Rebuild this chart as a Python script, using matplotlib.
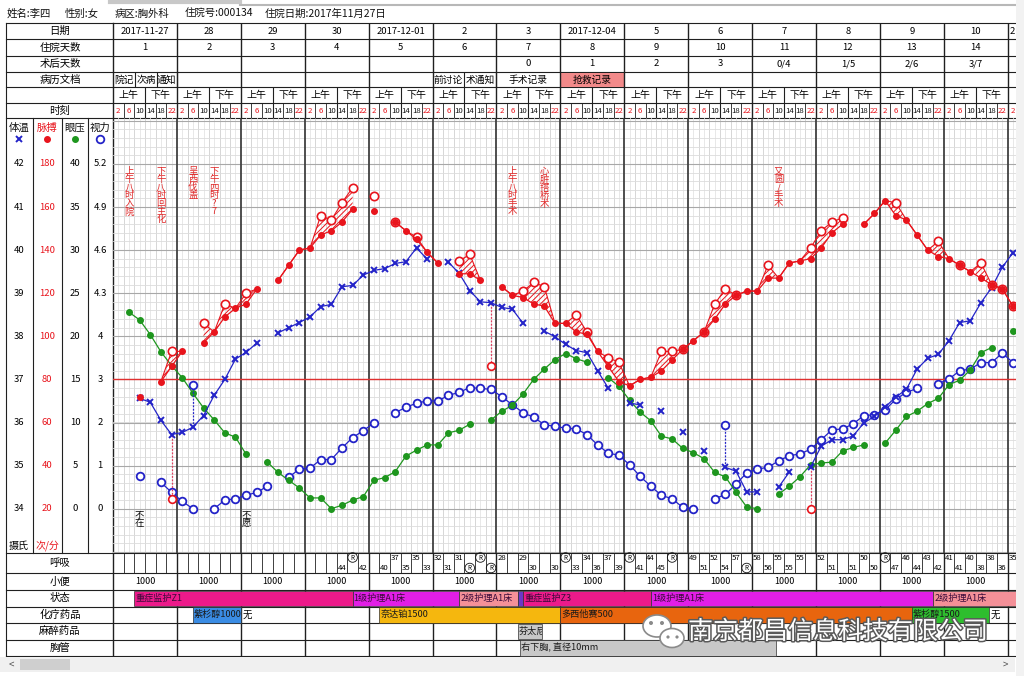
import numpy as np
import matplotlib
matplotlib.use("Agg")
import matplotlib.pyplot as plt
import matplotlib.transforms as mtransforms
import matplotlib.patheffects as pe
from matplotlib.transforms import Bbox
from matplotlib.patches import Rectangle, Ellipse

plt.rcParams['font.family'] = ['Noto Sans CJK SC', 'DejaVu Sans']
plt.rcParams['hatch.linewidth'] = 0.7

# ======================= DATA =======================
patient_info = ["姓名:李四", "性别:女", "病区:胸外科", "住院号:000134", "住院日期:2017年11月27日"]
dates = ["2017-11-27", "28", "29", "30", "2017-12-01", "2", "3", "2017-12-04",
         "5", "6", "7", "8", "9", "10", "2"]
hosp_days = ["1", "2", "3", "4", "5", "6", "7", "8", "9", "10", "11", "12", "13", "14", ""]
postop_days = ["", "", "", "", "", "", "0", "1", "2", "3", "0/4", "1/5", "2/6", "3/7", ""]
slot_hours = [2, 6, 10, 14, 18, 22]
red_hours = [2, 6, 22]

doc_text = ["院记", "次病", "通知", "前讨论", "术通知", "手术记录", "抢救记录"]
doc_start = [0, 8.3, 16.4, 120, 132, 144, 168]
doc_end = [8.3, 16.4, 24, 132, 144, 168, 192]
doc_color = [None, None, None, None, None, None, "#F28A8A"]

# body temperature (deg C), one value per time slot (None = not measured)
temperature = [None, None, 36.56, 36.47, 36.05, 35.72,
               35.77, 35.89, 36.16, 36.63, 37.0, 37.47,
               37.63, 37.84, None, 38.08, 38.2, 38.32,
               38.45, 38.69, 38.74, 39.15, 39.18, 39.42,
               39.53, 39.57, 39.69, 39.73, 40.05, 39.79,
               None, 39.72, 39.46, 39.06, 38.8, 38.78,
               38.67, 38.63, 38.3, None, 38.12, 37.99,
               37.81, 37.67, 37.62, 37.2, 36.8, None,
               36.45, 36.41, None, 36.27, None, 35.79,
               None, 35.34, None, 34.96, 34.87, 34.39,
               34.39, None, 34.5, 34.85, None, 34.97,
               35.45, 35.6, 35.6, 35.69, 35.99, 36.14,
               36.36, 36.59, 36.77, 37.24, 37.49, 37.58,
               37.9, 38.32, 38.36, 38.78, 39.13, 39.6,
               39.94]
# pulse (beats/min)
pulse = [None, None, 72, None, 79, 86,
         93, None, 97, 102, 109, 113,
         115, 122, None, 126, 133, 140,
         141, 147, 149, 153, 159, None,
         158, None, 153, 149, 145, 139,
         134, None, 129, 129, 126, None,
         123, 119, 118, 115, 114, 106,
         106, 102, 101, 93, 86, 79,
         77, 80, 81, 84, 89, 94,
         98, 102, 108, 115, 119, 121,
         121, 127, 127, 134, 135, 136,
         141, 148, 152, None, 152, 157,
         163, 156, 154, 147, 140, 137,
         136, 133, 130, 127, 124, 122,
         114]
# heart rate (beats/min)
heart = [None, None, None, None, None, 93,
         None, None, 106, None, 115, None,
         120, None, None, None, None, None,
         None, 156, 154, 162, 169, None,
         165, None, 153, None, 146, None,
         None, None, 135, 138, None, None,
         None, None, 121, 125, 123, None,
         None, 110, 102, None, 90, 88,
         None, None, None, 93, 93, 94,
         None, 102, 115, 122, 119, None,
         None, 133, None, None, None, 141,
         149, 153, 155, None, None, None,
         None, 162, None, None, None, 144,
         None, 133, None, 134, 124, 122,
         114]
# intraocular pressure (mmHg)
eye_pressure = [None, 22.8, 21.9, 20.2, 18.2, 16.6,
                15.2, 13.4, 11.7, 10.3, 8.8, 8.3,
                6.3, None, 5.4, 4.2, 3.3, 2.4,
                1.25, 1.25, 0.0, 0.4, 1.0, 1.4,
                3.3, 3.6, 4.3, 6.1, 6.8, 7.4,
                7.4, 8.8, 9.1, 9.8, None, 10.3,
                11.3, 12.0, 13.3, 15.0, 16.2, 17.3,
                18.0, 17.4, 17.0, None, 15.2, 14.2,
                12.6, 11.2, 10.2, 8.4, 8.1, 7.0,
                6.5, 5.8, 4.2, 3.7, 1.9, 0.2,
                0.0, None, 1.7, 2.6, 3.7, 5.1,
                5.3, 5.4, 6.7, 7.1, 7.4, None,
                7.6, 9.1, 10.7, 11.3, 12.2, 12.8,
                14.4, 14.9, 16.1, 18.1, 18.7, None,
                20.6]
# visual acuity
vision = [None, None, 0.77, None, 0.61, 0.38,
          0.17, 0.0, None, 0.0, 0.2, 0.23,
          0.31, 0.38, 0.52, None, 0.73, 0.92,
          0.94, 1.14, 1.14, 1.41, 1.65, 1.81,
          1.99, None, 2.23, 2.35, 2.45, 2.5,
          2.5, 2.63, 2.7, 2.81, 2.79, 2.77,
          2.6, 2.41, 2.23, 2.12, 1.95, 1.91,
          1.87, 1.85, 1.72, 1.48, 1.29, 1.24,
          1.02, 0.75, 0.52, 0.31, 0.23, 0.03,
          0.0, None, 0.23, 0.33, 0.57, 0.83,
          0.92, 0.96, 1.11, 1.23, 1.27, 1.38,
          1.6, 1.83, 1.85, 1.97, 2.16, 2.18,
          2.29, 2.54, 2.7, 2.79, None, 2.9,
          3.01, 3.2, 3.24, 3.39, 3.39, 3.61,
          3.39]
# physical cooling (temperature after cooling), slot index / deg C
cool_slots = [5, 35, 65]
cool_temps = [34.23, 37.3, 34.0]
# re-measured temperature, slot index / deg C
retest_slots = [7, 57]
retest_temps = [36.87, 35.95]

# event notes (slot index, text)
top_note_slots = [1, 4, 7, 9, 37, 40, 62]
top_note_texts = ["上午八时入院", "下午八时回主化", "呈西伐盖", "下午四时?7",
                  "上午八时手术", "心脏搭桥术", "又圆/手术"]
bottom_note_slots = [2, 12]
bottom_note_texts = ["不在", "不愿"]

# respiration (slot index -> value; "R" = ventilator)
resp_slots = [21, 22, 23, 25, 26, 27, 28, 29, 30, 31, 32, 33, 34, 35, 36, 38, 39, 41, 42, 43,
              44, 45, 46, 47, 48, 49, 50, 51, 52, 54, 55, 56, 57, 58, 59, 60, 61, 62, 63, 64,
              66, 67, 69, 70, 71, 72, 73, 74, 75, 76, 77, 78, 79, 80, 81, 82, 83, 84]
resp_vals = ["44", "R", "42", "40", "37", "35", "35", "33", "32", "31", "31", "R", "R", "R", "28",
             "29", "30", "30", "R", "33", "34", "36", "37", "39", "R", "41", "44", "45", "R",
             "49", "51", "52", "54", "57", "R", "58", "56", "55", "55", "55",
             "52", "51", "51", "50", "50", "R", "47", "46", "44", "43", "42", "41", "41", "40",
             "38", "38", "36", "35"]
urine = ["1000"] * 14

status_text = ["重症监护Z1", "1级护理A1床", "2级护理A1床", "", "重症监护Z3", "1级护理A1床", "2级护理A1床"]
status_start = [8, 90, 130, 152, 154, 202, 308]
status_end = [90, 130, 152, 154, 202, 308, 345]
status_color = ["#EC1A8A", "#E11EE6", "#F49098", "#6A38C8", "#EC1A8A", "#E11EE6", "#F49098"]

chemo_text = ["紫杉醇1000", "奈达铂1500", "多西他赛500", "紫杉醇1500"]
chemo_start = [30, 100, 168, 300]
chemo_end = [48, 168, 300, 329]
chemo_color = ["#3A8CE4", "#F5B70E", "#E8650E", "#2EBE2E"]
chemo_after = [(48, "无"), (329, "无")]

anes_text = ["芬太尼"]
anes_start = [152]
anes_end = [161]

tube_text = ["右下胸, 直径10mm"]
tube_start = [153]
tube_end = [249]

temp_ticks = [42, 41, 40, 39, 38, 37, 36, 35, 34]
pulse_ticks = [180, 160, 140, 120, 100, 80, 60, 40, 20]
eye_ticks = [40, 35, 30, 25, 20, 15, 10, 5, 0]
vision_ticks = ["5.2", "4.9", "4.6", "4.3", "4", "3", "2", "1", "0"]

# ======================= SCALES =======================
def arr(v):
    return np.array([np.nan if x is None else x for x in v], dtype=float)

def pulse_to_T(p):
    return 34 + (np.asarray(p, dtype=float) - 20) / 20.0

def eye_to_T(e):
    return 34 + np.asarray(e, dtype=float) / 5.0

def vision_to_T(v):
    v = np.asarray(v, dtype=float)
    return np.where(v <= 4, 34 + v, 38 + (v - 4) / 0.3)

# ======================= LAYOUT =======================
W, H = 1024, 676
X0, X1 = 113.0, 1016.0
PXH = 63.9 / 24.0
HMAX = (X1 - X0) / PXH
PY0, PY1 = 117.5, 552.5
Y37, PXDEG = 379.4, 43.1

def T_of_y(y):
    return 37 + (Y37 - y) / PXDEG

def px(h):
    return X0 + h * PXH

head_rows = [22.7, 39.3, 56.0, 71.7, 87.3, 103.3, PY0]
head_labels = ["日期", "住院天数", "术后天数", "病历文档", "", "时刻"]
foot_rows = [PY1, 573.0, 590.0, 606.5, 623.0, 639.5, 656.0]
foot_labels = ["呼吸", "小便", "状态", "化疗药品", "麻醉药品", "胸管"]

LINE = "#202020"
RED = "#E8141C"
BLUE = "#2323C8"
GREEN = "#1E961E"

fig = plt.figure(figsize=(W / 100, H / 100), dpi=100)
fig.patch.set_facecolor("white")

bg = fig.add_axes([0, 0, 1, 1])
bg.set_xlim(0, W); bg.set_ylim(H, 0); bg.axis("off")

ax = fig.add_axes([X0 / W, 1 - PY1 / H, (X1 - X0) / W, (PY1 - PY0) / H])
ax.set_xlim(0, HMAX); ax.set_ylim(T_of_y(PY1), T_of_y(PY0))
ax.axis("off")

tab = fig.add_axes([X0 / W, 0, (X1 - X0) / W, 1])
tab.set_xlim(0, HMAX); tab.set_ylim(H, 0); tab.axis("off")

ov = fig.add_axes([0, 0, 1, 1])
ov.set_xlim(0, W); ov.set_ylim(H, 0); ov.axis("off")

def clip_px(t, x0, x1, y0, y1):
    t.set_clip_box(Bbox.from_extents(x0, H - y1, x1, H - y0))
    t.set_clip_on(True)

# ---- top info line ----
info_x = [7, 65, 115, 185, 265]
for s, x in zip(patient_info, info_x):
    bg.text(x, 14, s, fontsize=7.5, ha="left", va="center", color="#111111")
bg.plot([240, 1015], [4.5, 4.5], color="#B8B8B8", lw=1.5)
bg.plot([110, 240], [1.5, 1.5], color="#C8C8C8", lw=3)

# ---- header table ----
for y in head_rows + foot_rows:
    bg.plot([6, X1], [y, y], color=LINE, lw=0.8)
bg.plot([6, 6], [head_rows[0], foot_rows[-1]], color=LINE, lw=0.8)
bg.plot([X0, X0], [head_rows[0], foot_rows[-1]], color=LINE, lw=1.0)
for x in [33, 62, 88]:
    bg.plot([x, x], [PY0, PY1], color=LINE, lw=0.8)

for lab, y0, y1 in zip(head_labels, head_rows[:-1], head_rows[1:]):
    bg.text(60, (y0 + y1) / 2, lab, fontsize=7.5, ha="center", va="center")
for lab, y0, y1 in zip(foot_labels, foot_rows[:-1], foot_rows[1:]):
    bg.text(60, (y0 + y1) / 2, lab, fontsize=7.5, ha="center", va="center")

ndays = len(dates)
for d in range(1, ndays):
    tab.vlines(24 * d, head_rows[0], head_rows[-1], color=LINE, lw=1.0)
    tab.vlines(24 * d, foot_rows[0], foot_rows[-1], color=LINE, lw=1.0)
for d in range(ndays):
    tab.vlines(24 * d + 12, head_rows[4], head_rows[6], color=LINE, lw=0.8)
    for k in [1, 2, 4, 5]:
        tab.vlines(24 * d + 4 * k, head_rows[5], head_rows[6], color=LINE, lw=0.6)
for k in range(1, int(HMAX // 4) + 1):
    tab.vlines(4 * k, foot_rows[0], foot_rows[1], color=LINE, lw=0.6)

def row_mid(rows, i):
    return (rows[i] + rows[i + 1]) / 2

for d in range(ndays):
    c = 24 * d + 12
    full = c + 10 < HMAX
    if full:
        tab.text(c, row_mid(head_rows, 0), dates[d], fontsize=6.8, ha="center", va="center")
        tab.text(c, row_mid(head_rows, 1), hosp_days[d], fontsize=6.8, ha="center", va="center")
        tab.text(c, row_mid(head_rows, 2), postop_days[d], fontsize=6.8, ha="center", va="center")
        tab.text(24 * d + 6, row_mid(head_rows, 4), "上午", fontsize=7.2, ha="center", va="center")
        tab.text(24 * d + 18, row_mid(head_rows, 4), "下午", fontsize=7.2, ha="center", va="center")
    else:
        # partially visible last day: only its leading character shows
        tab.text(24 * d + 0.6, row_mid(head_rows, 0), dates[d], fontsize=6.8, ha="left", va="center")
    for h in slot_hours:
        if 24 * d + h < HMAX - 0.8:
            tab.text(24 * d + h, row_mid(head_rows, 5) + 0.5, str(h), fontsize=5.6,
                     ha="center", va="center", color=(RED if h in red_hours else "#111111"))

# document row
for s, a, b, col in zip(doc_text, doc_start, doc_end, doc_color):
    if col:
        tab.add_patch(Rectangle((a, head_rows[3] + 0.8), b - a, head_rows[4] - head_rows[3] - 1.6,
                                facecolor=col, edgecolor="none"))
    if b - a < 24:
        tab.vlines(b, head_rows[3], head_rows[4], color=LINE, lw=0.8)
    t = tab.text((a + b) / 2, row_mid(head_rows, 3), s, fontsize=7.0, ha="center", va="center")
    clip_px(t, px(a) + 0.5, px(b) - 0.5, head_rows[3], head_rows[4])

# ---- left scale columns ----
trans = mtransforms.blended_transform_factory(bg.transData, ax.transData)
for tv, pv, ev, vv in zip(temp_ticks, pulse_ticks, eye_ticks, vision_ticks):
    bg.text(19, tv, str(tv), transform=trans, fontsize=6.8, ha="center", va="center")
    bg.text(47, float(pulse_to_T(pv)), str(pv), transform=trans, fontsize=6.8, ha="center", va="center", color=RED)
    bg.text(75, float(eye_to_T(ev)), str(ev), transform=trans, fontsize=6.8, ha="center", va="center")
    bg.text(100, float(vision_to_T(float(vv))), vv, transform=trans, fontsize=6.8, ha="center", va="center")

legend_names = ["体温", "脉搏", "眼压", "视力"]
legend_x = [19, 47, 75, 100]
legend_col = ["#111111", RED, "#111111", "#111111"]
for n, x, c in zip(legend_names, legend_x, legend_col):
    bg.text(x, 128, n, fontsize=7.5, ha="center", va="center", color=c)
bg.plot([19], [139], marker="x", ms=5, mew=1.4, color=BLUE)
bg.plot([47], [139], marker="o", ms=4, color=RED)
bg.plot([75], [139], marker="o", ms=4, color=GREEN)
bg.plot([100], [139], marker="o", ms=5.5, mfc="white", mec=BLUE, mew=1.3)
bg.text(19, 546, "摄氏", fontsize=7.2, ha="center", va="center")
bg.text(47, 546, "次/分", fontsize=7.2, ha="center", va="center", color=RED)

# ---- plot grid ----
for k in range(int(HMAX // 2) + 1):
    h = 2 * k
    if h % 24 == 0:
        continue
    ax.axvline(h, color="#D0D0D0" if h % 4 == 0 else "#E4E4E4", lw=0.6, zorder=0)
for v in np.arange(33.0, 43.2, 0.2):
    ax.axhline(v, color="#DCDCDC", lw=0.6, zorder=0)
for v in range(33, 44):
    ax.axhline(v, color="#A8A8A8", lw=0.8, zorder=0)
for d in range(1, ndays):
    ax.axvline(24 * d, color="#404040", lw=1.3, zorder=1)
ax.axhline(37, color="#E03030", lw=1.0, zorder=1)

# ---- series ----
times = np.array([24 * d + h for d in range(ndays) for h in slot_hours])[:len(temperature)]
T = arr(temperature)
P = pulse_to_T(arr(pulse))
HR = pulse_to_T(arr(heart))
E = eye_to_T(arr(eye_pressure))
V = vision_to_T(arr(vision))
V = np.where(np.isnan(arr(vision)), np.nan, V)

ax.plot(times, V, color=BLUE, lw=0.9, marker="o", ms=5.5, mfc="white", mec=BLUE, mew=1.3, zorder=3)
ax.plot(times, E, color=GREEN, lw=0.9, marker="o", ms=4, zorder=3)
ax.plot(times, T, color=BLUE, lw=0.9, marker="x", ms=5, mew=1.4, zorder=4)

# pulse deficit hatching between heart rate and pulse
valid = ~np.isnan(P)
i = 0
n = len(P)
while i < n:
    if not valid[i]:
        i += 1
        continue
    j = i
    while j + 1 < n and valid[j + 1]:
        j += 1
    seg = slice(i, j + 1)
    hfull = np.where(np.isnan(HR[seg]), P[seg], HR[seg])
    if j > i and np.any(np.abs(hfull - P[seg]) > 1e-9):
        ax.fill_between(times[seg], P[seg], hfull, facecolor="none", edgecolor=RED,
                        hatch="//////", lw=0, zorder=4)
        ax.plot(times[seg], hfull, color=RED, lw=0.8, zorder=4)
    i = j + 1
ax.plot(times, HR, ls="none", marker="o", ms=6, mfc="white", mec=RED, mew=1.2, zorder=5)
ax.plot(times, P, color=RED, lw=0.9, marker="o", ms=4, zorder=6)

for s, v in zip(cool_slots, cool_temps):
    ax.plot([times[s], times[s]], [T[s], v], color="#E04060", lw=0.9, ls=(0, (1.5, 1.2)), zorder=3)
    ax.plot([times[s]], [v], marker="o", ms=5.5, mfc="white", mec=RED, mew=1.2, zorder=5)
for s, v in zip(retest_slots, retest_temps):
    ax.plot([times[s], times[s]], [T[s], v], color=BLUE, lw=0.9, ls=(0, (1.5, 1.2)), zorder=3)
    ax.plot([times[s]], [v], marker="o", ms=5.5, mfc="white", mec=BLUE, mew=1.3, zorder=5)

for s, txt in zip(top_note_slots, top_note_texts):
    ax.text(times[s], T_of_y(167), "\n".join(txt), fontsize=6.8, color="#E02A2A",
            ha="center", va="top", linespacing=0.86, zorder=6)
for s, txt in zip(bottom_note_slots, bottom_note_texts):
    ax.text(times[s], T_of_y(511), "\n".join(txt), fontsize=6.8, color="#111111",
            ha="center", va="top", linespacing=0.86, zorder=6)

# ---- footer rows ----
for s, v in zip(resp_slots, resp_vals):
    top = (s % 2 == 0)
    yy = 557.5 if top else 568.0
    if v == "R":
        tab.text(4 * s + 2, yy, v, fontsize=4.6, ha="center", va="center",
                 bbox=dict(boxstyle="circle,pad=0.12", fc="none", ec="#111111", lw=0.6))
    else:
        tab.text(4 * s + 0.3, yy, v, fontsize=5.6, ha="left", va="center")

for d, u in enumerate(urine):
    tab.text(24 * d + 12, row_mid(foot_rows, 1), u, fontsize=6.5, ha="center", va="center")

def bars(texts, starts, ends, colors, row, text_color="#3A0A3A", fs=6.6):
    y0, y1 = foot_rows[row], foot_rows[row + 1]
    yc = (y0 + y1) / 2
    hgt = y1 - y0 - 1.0
    for s, a, b, c in zip(texts, starts, ends, colors):
        tab.barh(yc, b - a, left=a, height=hgt, color=c, edgecolor="#303030", lw=0.5, zorder=3, clip_on=True)
        if s:
            t = tab.text(a + 0.4, yc, s, fontsize=fs, ha="left", va="center", color=text_color, zorder=4)
            clip_px(t, px(a), min(px(b), X1), y0, y1)

bars(status_text, status_start, status_end, status_color, 2)
bars(chemo_text, chemo_start, chemo_end, chemo_color, 3, text_color="#1A1A1A")
for h, s in chemo_after:
    tab.text(h + 0.6, row_mid(foot_rows, 3), s, fontsize=6.8, ha="left", va="center", zorder=4)
bars(anes_text, anes_start, anes_end, ["#C8C8C8"], 4, text_color="#1A1A1A")
bars(tube_text, tube_start, tube_end, ["#C8C8C8"], 5, text_color="#1A1A1A")

# ---- scroll bars / watermark ----
ov.add_patch(Rectangle((0, 657), 1015, 15, facecolor="#F0F0F0", edgecolor="none"))
ov.add_patch(Rectangle((20, 659), 50, 11, facecolor="#CFCFCF", edgecolor="none"))
ov.text(11, 664.5, "<", fontsize=7, ha="center", va="center", color="#555555")
ov.text(1005, 664.5, ">", fontsize=7, ha="center", va="center", color="#555555")
ov.add_patch(Rectangle((1016, 0), 8, 676, facecolor="#F2F2F2", edgecolor="none"))

ov.add_patch(Ellipse((657, 626), 28, 22, facecolor="white", edgecolor="#8A8A8A", lw=1.2, zorder=5))
ov.add_patch(Ellipse((672, 638), 24, 19, facecolor="white", edgecolor="#8A8A8A", lw=1.2, zorder=6))
for (x, y, r) in [(651, 623, 2.0), (662, 623, 2.0), (668, 637, 1.6), (677, 637, 1.6)]:
    ov.add_patch(Ellipse((x, y), r * 2, r * 2, facecolor="#8A8A8A", edgecolor="none", zorder=7))
ov.text(838, 632, "南京都昌信息科技有限公司", fontsize=18, color="white", ha="center", va="center",
        zorder=8, path_effects=[pe.withStroke(linewidth=2.2, foreground="#5A5A5A")])

fig.savefig("out.png", dpi=100, facecolor="white")
